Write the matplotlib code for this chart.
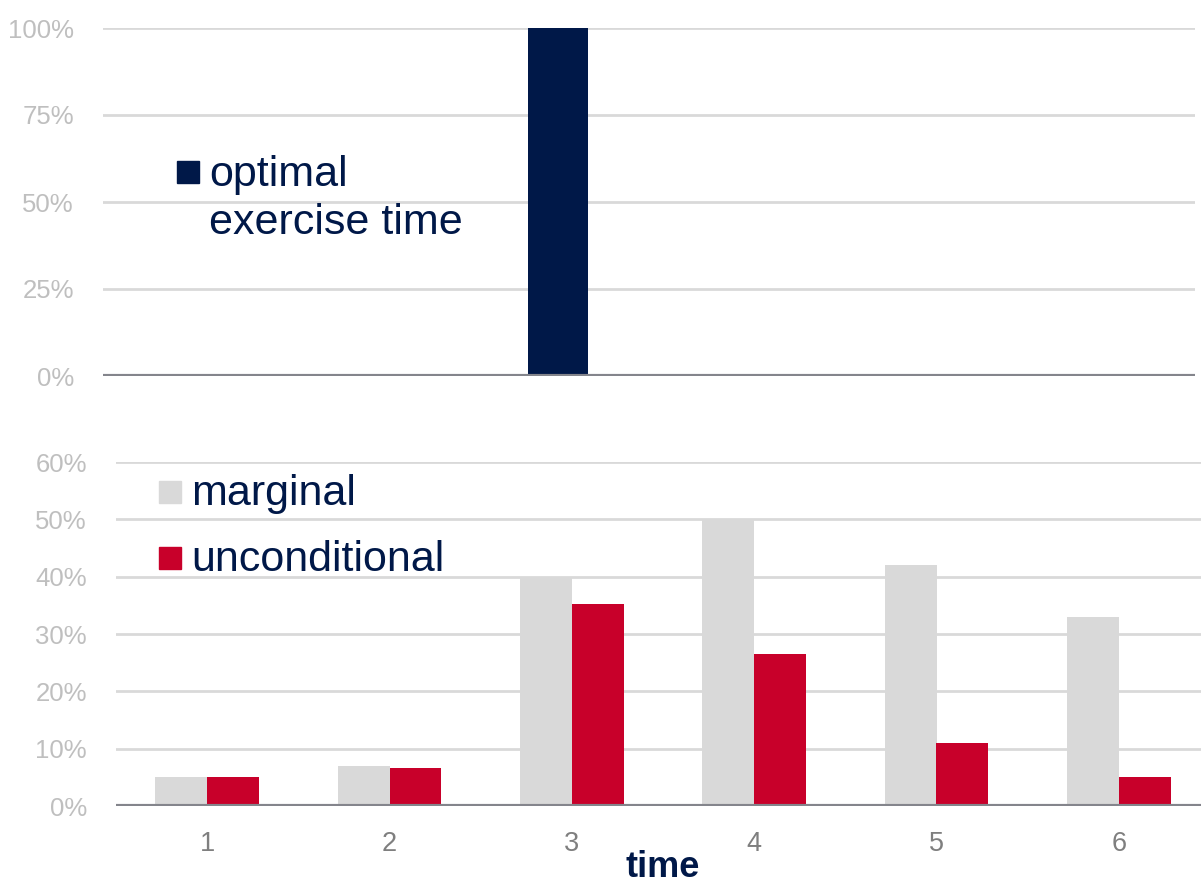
import matplotlib.pyplot as plt
from matplotlib.patches import Rectangle
from matplotlib.ticker import PercentFormatter

plt.rcParams['font.family'] = ['Liberation Sans', 'DejaVu Sans']

# data
times = [1, 2, 3, 4, 5, 6]
optimal = [0.0, 0.0, 1.0, 0.0, 0.0, 0.0]
marginal = [0.05, 0.07, 0.40, 0.50, 0.42, 0.33]
unconditional = [0.05, 0.067, 0.353, 0.265, 0.11, 0.05]
top_labels = ['optimal', 'exercise time']
bottom_labels = ['marginal', 'unconditional']

NAVY = '#001848'
RED = '#C8002A'
LIGHT = '#D9D9D9'
AXIS = '#84858C'
TICK = '#BFBFBF'

W, H = 1201, 886
fig = plt.figure(figsize=(W / 100, H / 100), dpi=100)


def px_axes(x0, y0, x1, y1):
    # axes from pixel box (top-left origin)
    return fig.add_axes([x0 / W, 1 - y1 / H, (x1 - x0) / W, (y1 - y0) / H])


def style(ax, ymax, step):
    for s in ax.spines.values():
        s.set_visible(False)
    ax.set_ylim(0, ymax)
    ax.set_xlim(0.5, 6.5)
    ticks = [i * step for i in range(int(round(ymax / step)) + 1)]
    ax.set_yticks(ticks)
    ax.yaxis.set_major_formatter(PercentFormatter(1.0, decimals=0))
    ax.grid(axis='y', color=LIGHT, linewidth=2)
    ax.set_axisbelow(True)
    ax.axhline(0, color=AXIS, linewidth=3, zorder=5)
    ax.tick_params(axis='y', length=0, pad=21, labelsize=18.5, labelcolor=TICK)


# top panel: optimal exercise time
ax1 = px_axes(103, 28, 1195, 376)
style(ax1, 1.0, 0.25)
ax1.bar(times, optimal, width=0.33, color=NAVY, zorder=3)
ax1.set_xticks([])
fig.patches.append(Rectangle((177 / W, 1 - 183 / H), 22 / W, 22 / H,
                             transform=fig.transFigure, color=NAVY))
fig.text(209 / W, 1 - 186 / H, top_labels[0], fontsize=31, color=NAVY, va='baseline')
fig.text(209 / W, 1 - 234 / H, top_labels[1], fontsize=31, color=NAVY, va='baseline')

# bottom panel: marginal vs unconditional
ax2 = px_axes(116, 462, 1210, 806)
style(ax2, 0.6, 0.1)
bw = 0.285
ax2.bar([t - bw / 2 for t in times], marginal, width=bw, color=LIGHT, zorder=3)
ax2.bar([t + bw / 2 for t in times], unconditional, width=bw, color=RED, zorder=3)
ax2.set_xticks(times)
ax2.set_xticklabels([str(t) for t in times])
ax2.tick_params(axis='x', length=0, pad=18, labelsize=19.5, labelcolor='#7F7F7F')
fig.text(663 / W, 1 - 885 / H, 'time', fontsize=26, fontweight='bold', color=NAVY,
         ha='center', va='bottom')

for (col, yb) in [(LIGHT, 503), (RED, 569)]:
    fig.patches.append(Rectangle((159 / W, 1 - yb / H), 22 / W, 22 / H,
                                 transform=fig.transFigure, color=col))
for (lab, yb) in [(bottom_labels[0], 505), (bottom_labels[1], 571)]:
    fig.text(191 / W, 1 - yb / H, lab, fontsize=31, color=NAVY, va='baseline')

fig.savefig('out.png', dpi=100)
